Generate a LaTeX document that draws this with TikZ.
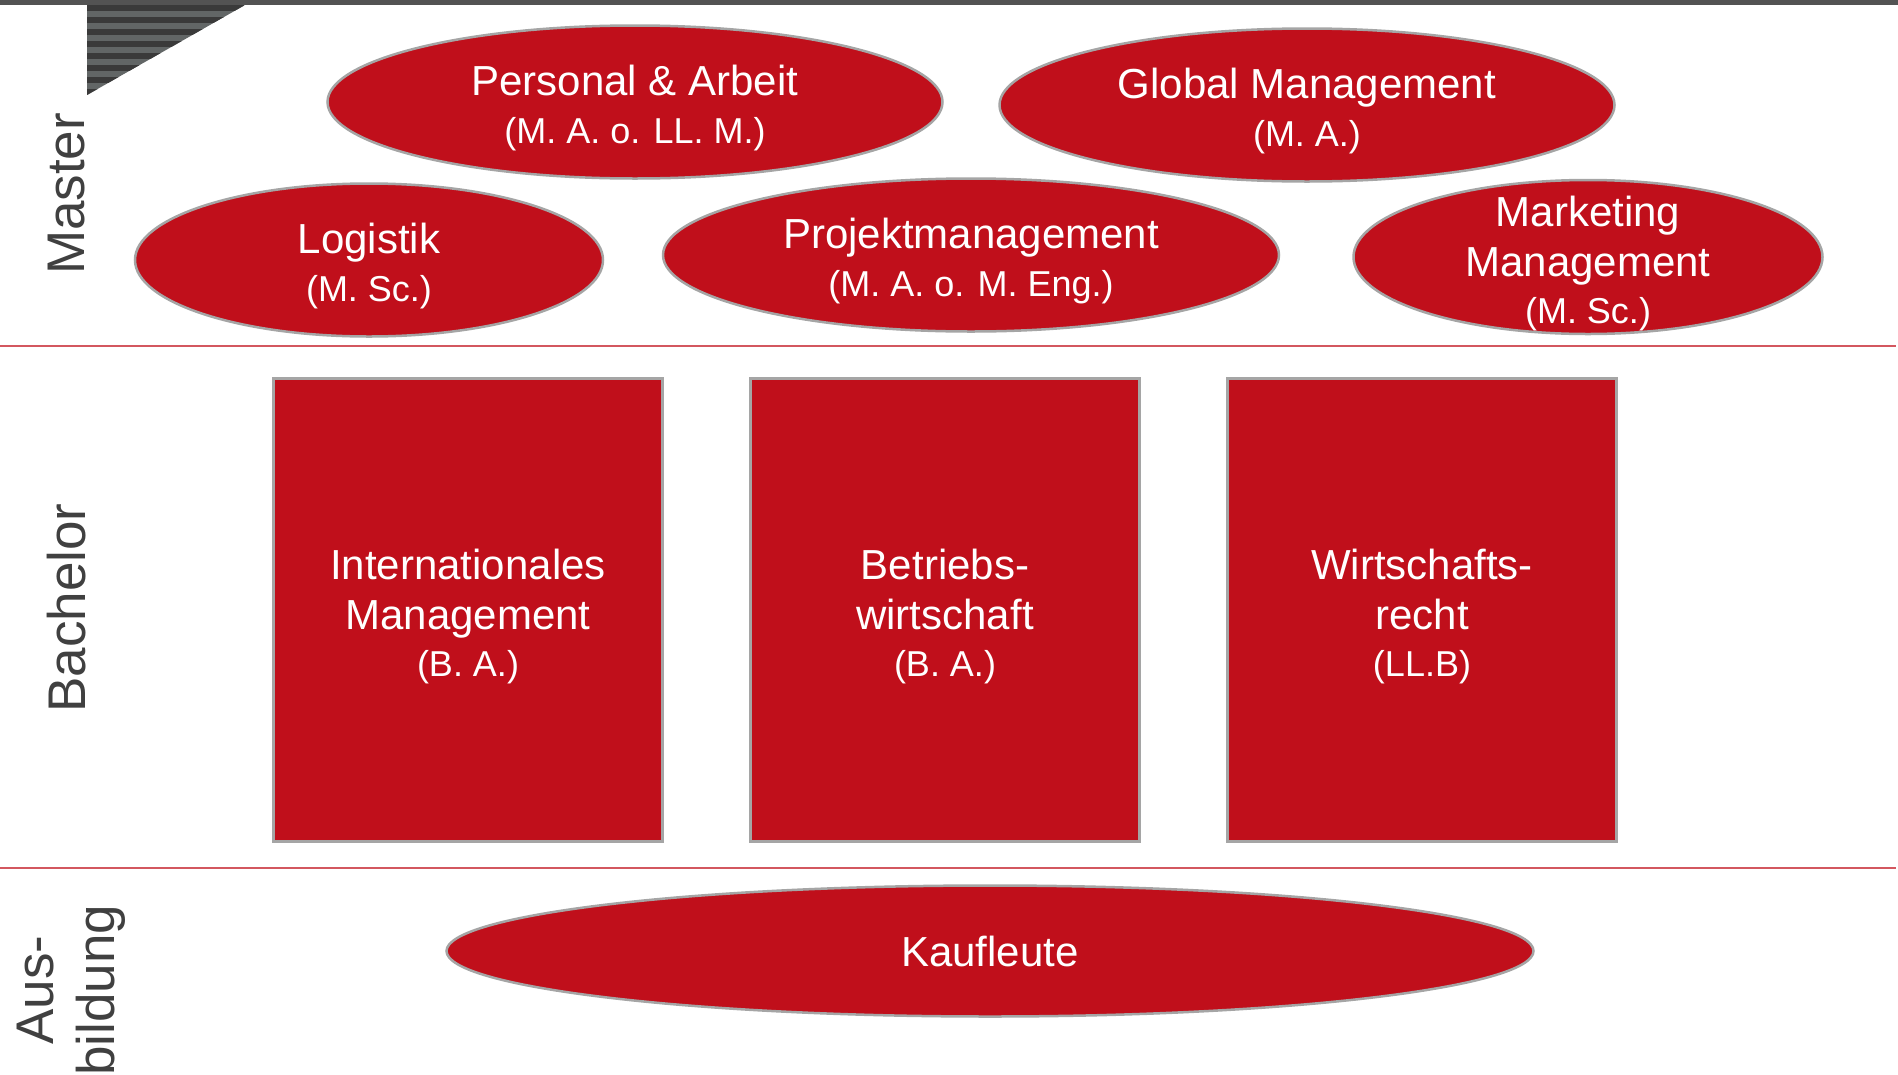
\documentclass[tikz,border=0pt]{standalone}
\usepackage{fontspec}
\setmainfont{Liberation Sans}
\usetikzlibrary{shapes.geometric}
\definecolor{hsred}{RGB}{192,15,27}
\definecolor{hsrim}{RGB}{165,165,165}
\definecolor{hstext}{RGB}{64,64,64}
\definecolor{stripedark}{RGB}{58,58,58}
\definecolor{stripelight}{RGB}{98,102,102}
\newcommand{\degree}[1]{{\fontsize{36}{46}\selectfont #1}}
\newcommand{\tall}{\rule{0pt}{43pt}}

\begin{document}
\begin{tikzpicture}[x=1pt,y=-1pt,
    prog/.style={ellipse,fill=hsred,draw=hsrim,line width=2.5pt,inner sep=0pt,
      text=white,align=center,font=\fontsize{42}{48}\selectfont},
    course/.style={rectangle,fill=hsred,draw=hsrim,line width=3pt,inner sep=0pt,
      minimum width=389pt,minimum height=463pt,
      text=white,align=center,font=\fontsize{42}{50}\selectfont},
    level/.style={rotate=90,text=hstext,align=center,font=\fontsize{53}{61}\selectfont},
    sep/.style={draw=hsred!70,line width=1.5pt}]
  \useasboundingbox (0,0) rectangle (1898,1074);

  % top bar and striped corner
  \fill[hstext!90] (0,0) rectangle (1898,5);
  \begin{scope}
    \clip (87,5) -- (245,5) -- (87,95) -- cycle;
    \fill[stripelight] (87,5) rectangle (245,95);
    \foreach \y in {5,17,...,89}
      \fill[stripedark] (87,\y) rectangle (245,\y+6);
  \end{scope}

  % separators
  \draw[sep] (0,346) -- (1896,346);
  \draw[sep] (0,868) -- (1896,868);

  % levels
  \node[level] (master) at (67,194) {Master};
  \node[level] (bachelor) at (67,608) {Bachelor};
  \node[level] (ausbildung) at (71,990) {Aus-\\bildung};

  % master
  \node[prog,minimum width=615pt,minimum height=153pt] (personal) at (635,102)
    {\tall Personal \& Arbeit\\\degree{(M. A. o. LL. M.)}};
  \node[prog,minimum width=615pt,minimum height=153pt] (global) at (1307,105)
    {\tall Global Management\\\degree{(M. A.)}};
  \node[prog,minimum width=468pt,minimum height=153pt] (logistik) at (369,260)
    {\tall Logistik\\\degree{(M. Sc.)}};
  \node[prog,minimum width=616pt,minimum height=153pt] (projekt) at (971,255)
    {\tall Projektmanagement\\\degree{(M. A. o. M. Eng.)}};
  \node[prog,minimum width=469pt,minimum height=154pt,
    label={[text=white,align=center,font=\fontsize{42}{50}\selectfont,yshift=-7pt]center:
      Marketing\\Management\\[-3pt]\degree{(M. Sc.)}}] (marketing) at (1588,257) {};

  % bachelor
  \node[course] (intmgmt) at (468,610)
    {\tall Internationales\\Management\\[-3pt]\degree{(B. A.)}};
  \node[course] (bwl) at (945,610)
    {\tall Betriebs-\\wirtschaft\\[-3pt]\degree{(B. A.)}};
  \node[course] (recht) at (1422,610)
    {\tall Wirtschafts-\\recht\\[-3pt]\degree{(LL.B)}};

  % ausbildung
  \node[prog,minimum width=1087pt,minimum height=131pt] (kaufleute) at (990,951) {Kaufleute};
\end{tikzpicture}
\end{document}
